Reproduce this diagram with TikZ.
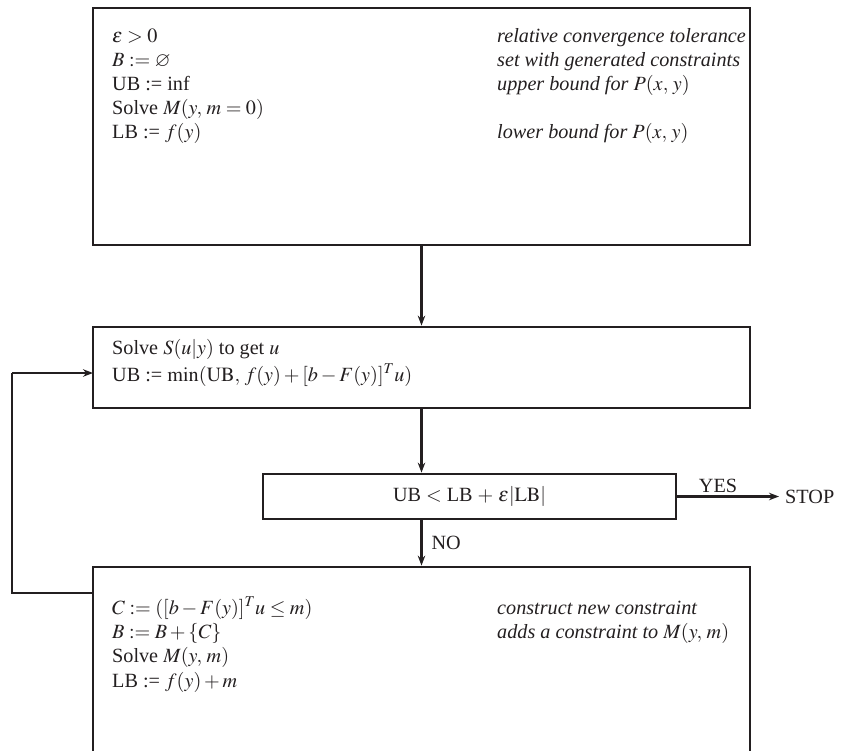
\documentclass[tikz,border=0pt]{standalone}
\usepackage{mathptmx}
\usepackage{amssymb}
\usepackage[no-math]{fontspec}
\setmainfont{Liberation Serif}
\usetikzlibrary{arrows.meta}
\definecolor{ink}{HTML}{231F20}
\begin{document}
\begin{tikzpicture}[x=1pt,y=-1pt,
  box/.style={draw=ink, line width=2.8pt, inner sep=0pt},
  txt/.style={anchor=base west, inner sep=0pt, font=\fontsize{20.2}{24}\selectfont, text=ink},
  lbl/.style={inner sep=0pt, font=\fontsize{20.2}{24}\selectfont, text=ink},
  conn/.style={draw=ink, line width=2.2pt, -{Stealth[length=10pt,width=7.5pt]}},
  wire/.style={draw=ink, line width=2.2pt},
]
\useasboundingbox (0,0) rectangle (866,751);
\clip (0,0) rectangle (866,751);

% boxes
\node[box, minimum width=657pt, minimum height=237pt] (init) at (421.5,126.5) {};
\node[box, minimum width=657pt, minimum height=81pt] (sub) at (421.5,367.5) {};
\node[box, minimum width=413pt, minimum height=45pt] (test) at (469.5,496.5) {};
\node[box, minimum width=657pt, minimum height=253pt] (master) at (421.5,693.5) {};

% init text
\node[txt] (i1) at (112,43) {$\varepsilon > 0$};
\node[txt] (i2) at (112,67) {$B := \varnothing$};
\node[txt] (i3) at (112,91) {UB := inf};
\node[txt] (i4) at (112,115) {Solve $M(y,\, m = 0)$};
\node[txt] (i5) at (112,139) {LB := $f(y)$};
\node[txt] (c1) at (497,43) {\itshape relative convergence tolerance};
\node[txt] (c2) at (497,67) {\itshape set with generated constraints};
\node[txt] (c3) at (497,91) {\itshape upper bound for $P(x,\, y)$};
\node[txt] (c5) at (497,139) {\itshape lower bound for $P(x,\, y)$};

% subproblem text
\node[txt] (s1) at (112,354) {Solve $S(u|y)$ to get $u$};
\node[txt] (s2) at (112,381) {UB := $\min(\mathrm{UB},\, f(y) + [b - F(y)]^T u)$};

% test text
\node[lbl] (t1) at (test.center) {UB $<$ LB $+\ \varepsilon|\mathrm{LB}|$};

% master text
\node[txt] (m1) at (112,614) {$C := ([b - F(y)]^T u \le m)$};
\node[txt] (m2) at (112,638) {$B := B + \{C\}$};
\node[txt] (m3) at (112,662) {Solve $M(y,\, m)$};
\node[txt] (m4) at (112,687) {LB := $f(y) + m$};
\node[txt] (n1) at (497,614) {\itshape construct new constraint};
\node[txt] (n2) at (497,638) {\itshape adds a constraint to $M(y,\, m)$};

% stop
\node[lbl, anchor=west, inner sep=6pt] (stop) at (779,496.5) {STOP};

% connectors
\draw[conn] (init.south) -- (sub.north);
\draw[conn] (sub.south) -- (sub.south |- test.north);
\draw[conn] (sub.south |- test.south) -- (master.north)
  node[lbl, pos=0.5, anchor=west, xshift=9pt] (no) {NO};
\draw[conn] (test.east) -- (stop.west)
  node[lbl, pos=0.4, anchor=south, yshift=3pt] (yes) {YES};
\coordinate (fb) at (93,593);
\coordinate (fbin) at (93,373);
\draw[wire] (fb) -- (12,593) -- (12,373);
\draw[conn] (12,373) -- (fbin);
\end{tikzpicture}
\end{document}
